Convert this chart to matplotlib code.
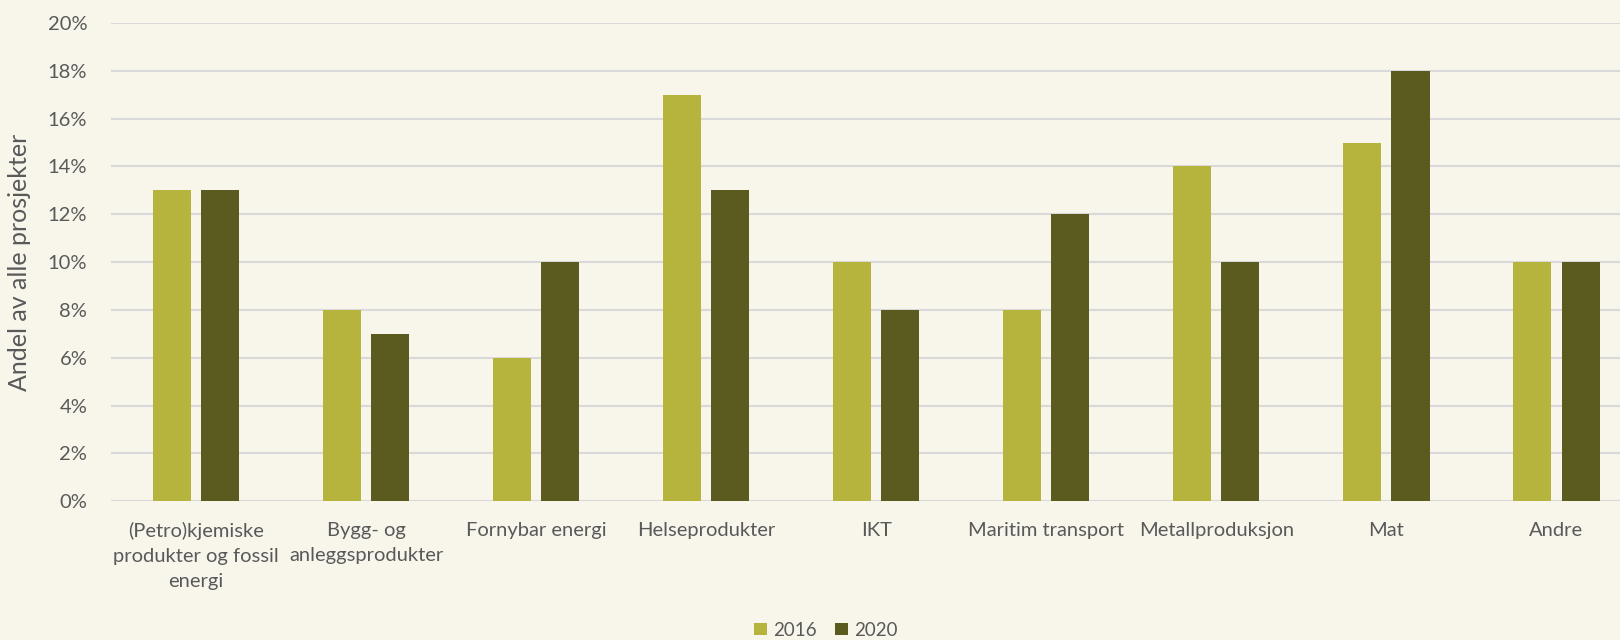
import matplotlib
matplotlib.use("Agg")
import matplotlib.pyplot as plt
import numpy as np
from matplotlib.ticker import PercentFormatter

categories = [
    "(Petro)kjemiske\nprodukter og fossil\nenergi",
    "Bygg- og\nanleggsprodukter",
    "Fornybar energi",
    "Helseprodukter",
    "IKT",
    "Maritim transport",
    "Metallproduksjon",
    "Mat",
    "Andre",
]
share_2016 = [13, 8, 6, 17, 10, 8, 14, 15, 10]
share_2020 = [13, 7, 10, 13, 8, 12, 10, 18, 10]

bg = "#f8f6eb"
c2016 = "#b7b43e"
c2020 = "#5b5a1f"
txt = "#595959"

plt.rcParams["font.family"] = ["Lato", "DejaVu Sans"]

fig = plt.figure(figsize=(16.2, 6.4), dpi=100, facecolor=bg)
ax = fig.add_axes([0.0685, 0.217, 0.9315, 0.747], facecolor=bg)

x = np.arange(len(categories))
w = 0.224
off = 0.142
ax.bar(x - off, share_2016, w, color=c2016, label="2016", zorder=3)
ax.bar(x + off, share_2020, w, color=c2020, label="2020", zorder=3)

ax.set_xlim(-0.5, 8.374)
ax.set_ylim(0, 20)
ax.set_yticks(np.arange(0, 21, 2))
ax.yaxis.set_major_formatter(PercentFormatter(decimals=0))
ax.grid(True, axis="y", color="#d9d9d9", linewidth=1.5, zorder=0)
for s in ax.spines.values():
    s.set_visible(False)
ax.tick_params(axis="both", length=0, labelsize=14.5, labelcolor=txt)
ax.tick_params(axis="y", pad=17)
ax.tick_params(axis="x", pad=15)
ax.set_xticks(x)
ax.set_xticklabels(categories, linespacing=1.58)
ax.set_ylabel("Andel av alle prosjekter", fontsize=18, color=txt, labelpad=12)

ax.legend(loc="center", bbox_to_anchor=(826 / 1620, 10 / 640), bbox_transform=fig.transFigure,
          ncol=2, frameon=False, fontsize=13.5, labelcolor=txt, handlelength=0.65,
          handleheight=0.65, handletextpad=0.35, columnspacing=1.0)

fig.savefig("out.png", dpi=100, facecolor=bg)
